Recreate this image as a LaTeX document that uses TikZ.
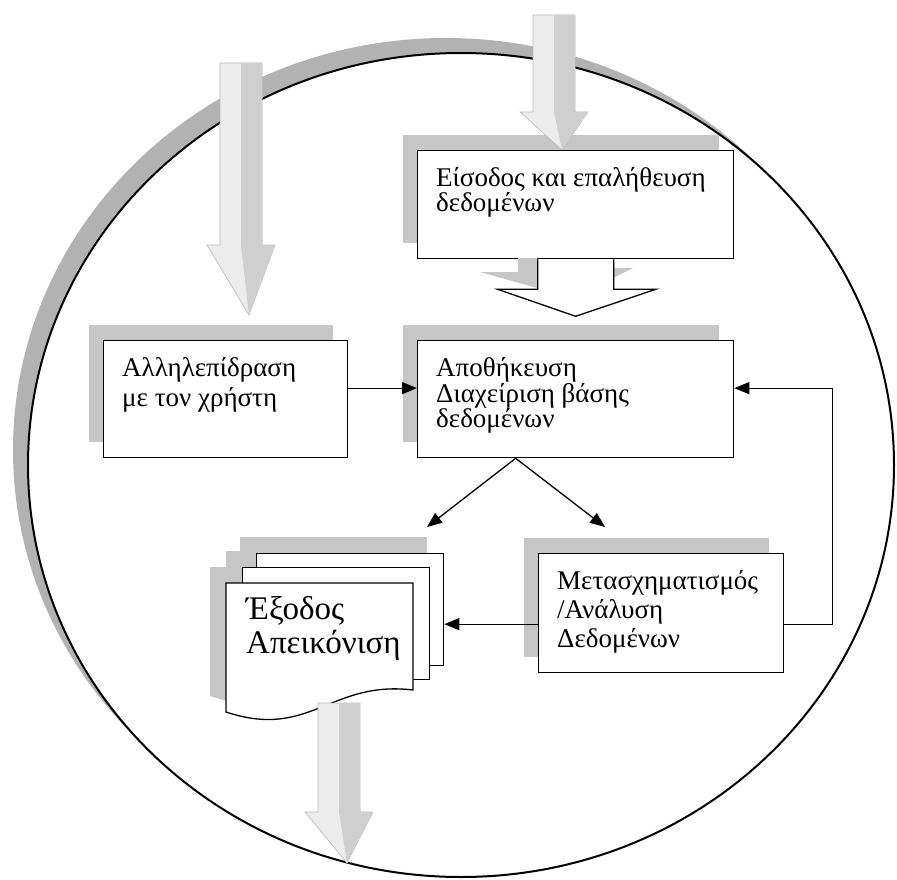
\documentclass[tikz,border=0pt]{standalone}
\usepackage{fontspec}
\setmainfont{Liberation Serif}
\usepackage{tikz}
\usetikzlibrary{arrows.meta,shadows}

\begin{document}
\begin{tikzpicture}[
  x=1pt, y=-1pt,
  font=\fontsize{27}{30}\selectfont,
  ring/.style={draw, line width=2pt, fill=white},
  ringband/.style={fill=gray!60},
  procbox/.style={draw, line width=1.3pt, fill=white, anchor=north west, inner sep=0pt,
    general shadow={fill=gray!45, shadow xshift=-15pt, shadow yshift=16pt}},
  boxtext/.style={anchor=north west, align=left, inner xsep=19pt, inner ysep=17pt},
  docpage/.style={draw, line width=1.3pt, fill=white, anchor=north west, inner sep=0pt,
    minimum width=187pt, minimum height=112pt},
  docshadow/.style={fill=gray!45},
  outtext/.style={anchor=north west, align=left, font=\fontsize{33}{34}\selectfont,
    inner xsep=20pt, inner ysep=13pt},
  bigarrow/.style={fill=gray!15, draw=gray!55, line width=0.6pt},
  bigshade/.style={fill=gray!38},
  blockarr/.style={draw, line width=1.3pt, line join=miter},
  arr/.style={-{Triangle[length=15pt,width=12pt]}, line width=1.3pt}
]
  \useasboundingbox (0,0) rectangle (897,880);
  % outer ring with its shaded rim
  \fill[ringband] (446,450) ellipse (433 and 412);
  \draw[ring] (461,465) ellipse (433 and 412);

  \node[procbox, minimum width=316pt, minimum height=108pt,
    label={[boxtext, font=\fontsize{27}{25}\selectfont]north west:Είσοδος και επαλήθευση\\δεδομένων}] (inbox) at (417,150) {};
  \node[procbox, minimum width=244pt, minimum height=117pt,
    label={[boxtext]north west:Αλληλεπίδραση\\με τον χρήστη}] (inter) at (103,340) {};
  \node[procbox, minimum width=316pt, minimum height=117pt,
    label={[boxtext, font=\fontsize{27}{24}\selectfont]north west:Αποθήκευση\\Διαχείριση βάσης\\δεδομένων}] (store) at (417,340) {};
  \node[procbox, minimum width=245pt, minimum height=119pt,
    label={[boxtext, font=\fontsize{27}{29}\selectfont]north west:Μετασχηματισμός\\/Ανάλυση\\Δεδομένων}] (trans) at (538,553) {};

  % stack of output pages
  \foreach \x/\y in {240/537, 226/551} \fill[docshadow] (\x,\y) rectangle ++(187,112);
  \fill[docshadow] (210,567) -- (397,567) -- (397,674)
    .. controls (314,664) and (294,724) .. (210,696) -- cycle;
  \node[docpage] (outback) at (256,553) {};
  \node[docpage] (outmid) at (242,567) {};
  \filldraw[fill=white, line width=1.3pt] (226,583) -- (413,583) -- (413,690)
    .. controls (330,680) and (310,740) .. (226,712) -- cycle;
  \node[outtext] (out) at (226,583) {Έξοδος\\Απεικόνιση};

  % input arrow into the store
  \fill[docshadow] (518,258) -- (537,258) -- (537,288) -- (480,272) -- (518,272) -- cycle;
  \fill[docshadow] (613,268) -- (633,268) -- (613,278) -- cycle;
  \draw[blockarr, shift={(inbox.south)}] (-38,0) -- (-38,30) -- (-78,30) -- (0,57)
    -- (80,30) -- (38,30) -- (38,0);

  \coordinate (outtip) at (427,527);
  \coordinate (transtip) at (605,527);
  \coordinate (transout) at ([yshift=-11pt]trans.west);
  \coordinate (transback) at ([yshift=-11pt]trans.east);

  \draw[arr] ([yshift=11pt]inter.east) -- ([yshift=11pt]store.west);
  \foreach \t in {outtip, transtip} \draw[arr] ([xshift=-60pt]store.south) -- (\t);
  \draw[arr] (transout) -- (transout -| outback.east);
  \draw[arr] (transback) -- ++(48,0) |- ([yshift=11pt]store.east);

  % big shaded arrows
  \foreach \cx/\ytop/\yhead/\ytip in {241/63/245/315, 554/15/112/150, 339/703/812/863} {
    \filldraw[bigarrow] (\cx-21,\ytop) -- (\cx+21,\ytop) -- (\cx+21,\yhead) -- (\cx+34,\yhead)
      -- (\cx+8,\ytip) -- (\cx-34,\yhead) -- (\cx-21,\yhead) -- cycle;
    \fill[bigshade] (\cx,\ytop) -- (\cx+21,\ytop) -- (\cx+21,\yhead) -- (\cx+34,\yhead)
      -- (\cx+8,\ytip) -- (\cx,\yhead) -- cycle;
  }
\end{tikzpicture}
\end{document}
